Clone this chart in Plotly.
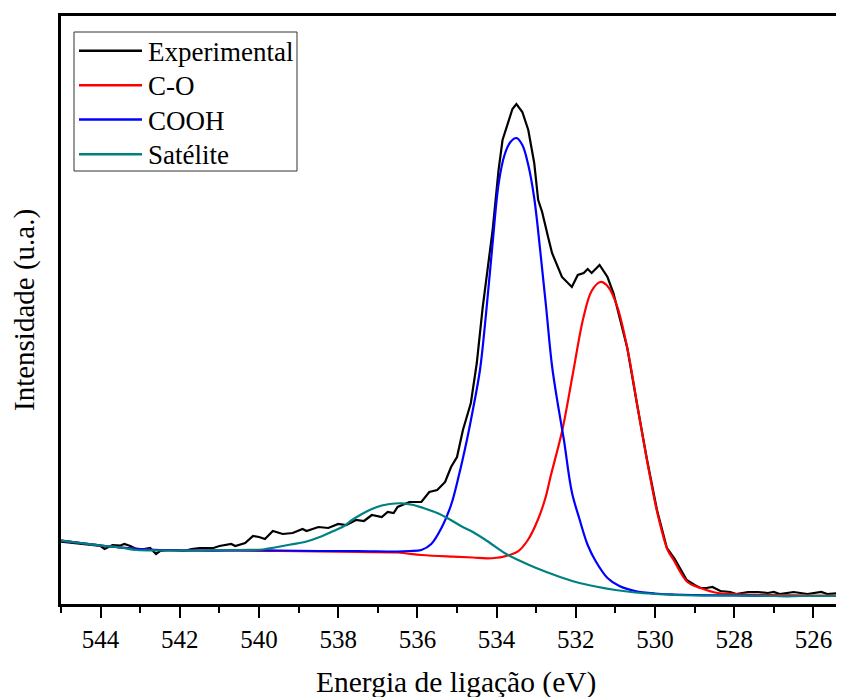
import plotly.graph_objects as go

# ---------------- data ----------------
exp_E = [545.0, 544.5, 544.2, 544.0, 543.9, 543.7, 543.5, 543.4, 543.25, 543.1,
         542.9, 542.75, 542.6, 542.5, 542.3, 542.1, 541.9, 541.7, 541.5, 541.15,
         541.0, 540.7, 540.6, 540.35, 540.15, 540.0, 539.85, 539.65, 539.4, 539.15,
         538.9, 538.8, 538.5, 538.25, 538.0, 537.8, 537.55, 537.35, 537.15, 536.9,
         536.75, 536.6, 536.5, 536.2, 535.9, 535.7, 535.5, 535.3, 535.15, 535.0,
         534.85, 534.65, 534.5, 534.35, 534.1, 533.95, 533.85, 533.7, 533.6, 533.5,
         533.35, 533.2, 533.05, 532.95, 532.85, 532.7, 532.6, 532.35, 532.1, 531.95,
         531.8, 531.7, 531.6, 531.4, 531.2, 531.05, 530.87, 530.7, 530.45, 530.2,
         529.95, 529.7, 529.5, 529.2, 529.0, 528.85, 528.7, 528.55, 528.35, 528.1,
         527.95, 527.65, 527.4, 527.15, 527.0, 526.85, 526.5, 526.15, 525.8, 525.65,
         525.3, 525.0]
exp_I = [63.3, 61, 60, 59, 56, 60, 59.5, 61, 59, 56,
         56, 57, 51, 54, 55, 55, 54, 56, 57, 57,
         59, 61, 59, 62, 69, 68, 66, 74, 71, 72,
         76, 74, 78, 77, 81, 80, 85, 84, 90, 88,
         93, 92, 98, 103, 103, 113, 115, 123, 138, 148,
         175, 202, 242, 298, 375, 435, 465, 485, 496, 501,
         493, 475, 442, 405, 393, 368, 352, 328, 318, 330,
         332, 336, 332, 340, 328, 312, 285, 257, 200, 145,
         95, 57, 46, 25, 20, 17, 17, 18, 14, 13,
         11, 13, 13, 12, 13, 11, 13, 11, 13, 11,
         12, 12]

co_E = [545.0, 544.5, 544.0, 543.5, 543.0, 542.5, 541.5, 540.5, 539.5, 538.5,
        537.5, 536.5, 535.9, 535.1, 534.6, 534.23, 533.83, 533.47, 533.21, 532.96,
        532.76, 532.64, 532.34, 532.08, 531.81, 531.6, 531.38, 531.18, 530.95, 530.69,
        530.44, 530.19, 529.94, 529.68, 529.53, 529.18, 528.85, 528.42, 528.01, 527.0,
        526.0, 525.0]
co_I = [64.3, 62, 59.5, 57.5, 56, 55, 54.5, 54.5, 54, 53.5,
        53, 52.5, 50, 48.3, 47.5, 46.7, 48.3, 53.3, 65, 85,
        108, 128, 175, 230, 287, 314, 323, 318, 298, 255,
        198, 142, 92, 55, 45, 23, 17, 12, 11, 10,
        9.5, 9.5]

cooh_E = [545.0, 544.5, 544.0, 543.5, 543.0, 542.5, 541.5, 540.5, 539.5, 538.5,
          537.5, 536.5, 536.2, 535.9, 535.65, 535.38, 535.15, 534.95, 534.75, 534.6,
          534.42, 534.27, 534.1, 533.95, 533.8, 533.65, 533.5, 533.35, 533.2, 533.05,
          532.9, 532.75, 532.6, 532.45, 532.3, 532.1, 531.9, 531.7, 531.5, 531.2,
          530.9, 530.5, 530.0, 529.5, 529.0, 528.0, 527.0, 526.0, 525.0]
cooh_I = [64.3, 62, 59.5, 57.5, 56, 55, 54.5, 54.5, 54.5, 54,
          54, 53.5, 54, 55, 61, 78, 100, 130, 165, 195,
          235, 290, 362, 421, 450, 463, 467, 460, 440, 407,
          355, 298, 239, 200, 165, 113, 85, 60, 44, 27,
          19, 14, 11.5, 10.5, 10, 9.5, 9, 9, 9]

sat_E = [545.0, 544.5, 544.0, 543.5, 543.1, 542.5, 541.5, 540.5, 539.9, 539.6,
         539.2, 538.8, 538.5, 538.15, 537.85, 537.65, 537.4, 537.15, 536.9, 536.7,
         536.4, 536.1, 535.85, 535.5, 535.2, 534.9, 534.6, 534.2, 533.8, 533.4,
         533.0, 532.5, 532.0, 531.5, 531.0, 530.5, 530.0, 529.5, 529.0, 528.0,
         527.0, 526.0, 525.0]
sat_I = [64.3, 62, 59.5, 57.5, 55, 54.5, 54.5, 55, 55.5, 57.5,
         60.5, 63.5, 67.5, 73.5, 79, 85, 91, 96, 99.5, 101,
         101.7, 100, 97, 92, 86, 79, 73, 63, 52, 44,
         37, 29.5, 23, 18.5, 15, 12.5, 11, 10, 9.5, 9.5,
         9, 9, 9]

tick_vals = [544, 542, 540, 538, 536, 534, 532, 530, 528, 526]
tick_text = [str(v) for v in tick_vals]
minor_vals = [545, 543, 541, 539, 537, 535, 533, 531, 529, 527, 525]

series_names = ["Experimental", "C-O", "COOH", "Satélite"]
series_colors = ["#000000", "#FF0000", "#0000FF", "#008080"]

# ---------------- layout constants ----------------
OFF = 8                     # page offset of the plot div (body margin)
W, H = 844 - OFF, 697 - OFF
ML, MR, MT, MB = 61 - OFF, 0, 16 - OFF, 93
PW, PH = W - ML - MR, H - MT - MB
FONT = "Liberation Serif, Tinos, Times New Roman, DejaVu Serif, serif"


def px(x):
    """page pixel x -> paper coordinate"""
    return (x - OFF - ML) / PW


def py(y):
    """page pixel y -> paper coordinate"""
    return (H - MB - (y - OFF)) / PH


fig = go.Figure()
data = [(exp_E, exp_I, "linear"), (co_E, co_I, "spline"),
        (cooh_E, cooh_I, "spline"), (sat_E, sat_I, "spline")]
for (xs, ys, shape), name, col in zip(data, series_names, series_colors):
    fig.add_trace(go.Scatter(x=xs, y=ys, mode="lines", name=name,
                             line=dict(color=col, width=2.2, shape=shape),
                             showlegend=False))

# manual legend (box, sample lines, labels)
shapes = [dict(type="rect", xref="paper", yref="paper",
               x0=px(74), x1=px(297), y0=py(32), y1=py(171),
               line=dict(color="#333333", width=1), fillcolor="white", layer="below")]
annotations = []
rows = [50.7, 85.2, 119.5, 154.3]
for r, name, col in zip(rows, series_names, series_colors):
    shapes.append(dict(type="line", xref="paper", yref="paper",
                       x0=px(79), x1=px(142), y0=py(r), y1=py(r),
                       line=dict(color=col, width=2.5)))
    annotations.append(dict(xref="paper", yref="paper", x=px(146), y=py(r + 1),
                            xanchor="left", yanchor="middle", showarrow=False,
                            text=name, font=dict(family=FONT, size=27, color="black")))

annotations.append(dict(xref="paper", yref="paper", x=px(456), y=py(682),
                        xanchor="center", yanchor="middle", showarrow=False,
                        text="Energia de ligação (eV)",
                        font=dict(family=FONT, size=29.5, color="black")))
annotations.append(dict(xref="paper", yref="paper", x=px(24), y=py(310),
                        xanchor="center", yanchor="middle", showarrow=False,
                        textangle=-90, text="Intensidade (u.a.)",
                        font=dict(family=FONT, size=29, color="black")))

fig.update_layout(
    width=W, height=H,
    margin=dict(l=ML, r=MR, t=MT, b=MB, pad=0),
    paper_bgcolor="white", plot_bgcolor="white",
    font=dict(family=FONT, color="black"),
    shapes=shapes, annotations=annotations,
    xaxis=dict(range=[545, 545 - PW / 39.6], showgrid=False, zeroline=False,
               showline=True, linecolor="black", linewidth=2.5, mirror=True,
               ticks="outside", ticklen=11, tickwidth=2, tickcolor="black",
               tickvals=tick_vals, ticktext=tick_text,
               tickfont=dict(family=FONT, size=25, color="black"),
               minor=dict(ticks="outside", ticklen=6, tickwidth=2, tickcolor="black",
                          tickvals=minor_vals)),
    yaxis=dict(range=[1, 589], showgrid=False, zeroline=False, showticklabels=False,
               showline=True, linecolor="black", linewidth=2.5, ticks=""),
)

fig.write_html("out.html")
